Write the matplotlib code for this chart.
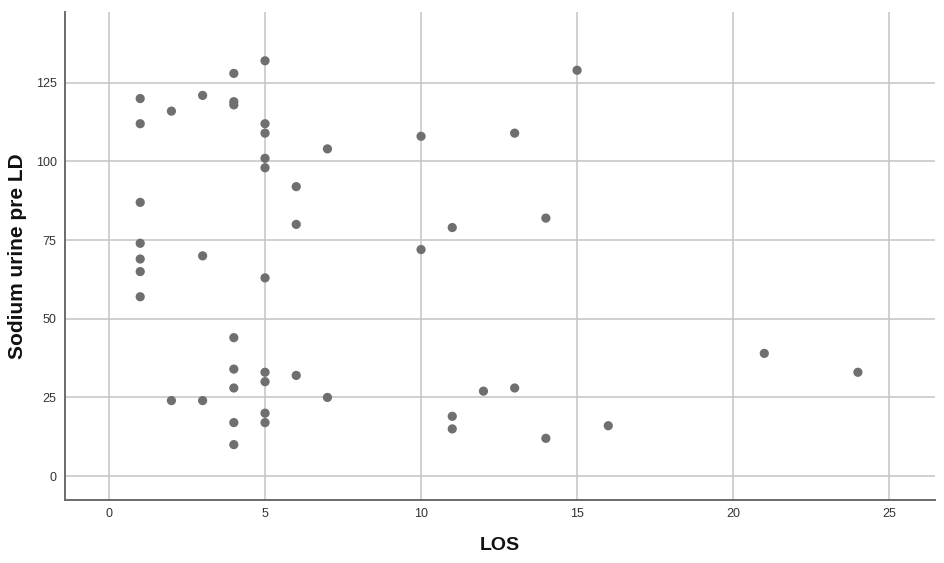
import matplotlib.pyplot as plt

# =========================================
# DATA (LOS vs sodium urine pre LD)
# =========================================
los = [1, 1, 1, 1, 1, 1, 1,
       2, 2,
       3, 3, 3,
       4, 4, 4, 4, 4, 4, 4, 4,
       5, 5, 5, 5, 5, 5, 5, 5, 5, 5,
       6, 6, 6,
       7, 7,
       10, 10,
       11, 11, 11,
       12,
       13, 13,
       14, 14,
       15,
       16,
       21,
       24]

sodium = [120, 112, 87, 74, 69, 65, 57,
          116, 24,
          121, 70, 24,
          128, 119, 118, 44, 34, 28, 17, 10,
          132, 112, 109, 101, 98, 63, 33, 30, 20, 17,
          92, 80, 32,
          104, 25,
          108, 72,
          79, 19, 15,
          27,
          109, 28,
          82, 12,
          129,
          16,
          39,
          33]

x_ticks = [0, 5, 10, 15, 20, 25]
y_ticks = [0, 25, 50, 75, 100, 125]

# =========================================
# PLOT
# =========================================
plt.rcParams["font.family"] = ["Liberation Sans", "DejaVu Sans"]

fig = plt.figure(figsize=(9.45, 5.63), dpi=100)
ax = fig.add_axes([0.0688, 0.1119, 0.9206, 0.8673])

ax.scatter(los, sodium, s=44, color="#6f6f6f", edgecolors="none", zorder=3)

ax.set_xlim(-1.41, 26.47)
ax.set_ylim(-7.6, 147.6)
ax.set_xticks(x_ticks)
ax.set_yticks(y_ticks)

ax.grid(True, color="#c4c4c4", linewidth=1.1, zorder=0)
ax.set_axisbelow(True)

ax.tick_params(length=0, labelsize=9, colors="#333333", pad=6)

for side in ["top", "right"]:
    ax.spines[side].set_visible(False)
for side in ["left", "bottom"]:
    ax.spines[side].set_color("#6a6a6a")
    ax.spines[side].set_linewidth(1.4)

ax.set_xlabel("LOS", fontsize=14, fontweight="bold", color="#111111", labelpad=12)
ax.set_ylabel("Sodium urine pre LD", fontsize=15, fontweight="bold",
              color="#111111", labelpad=6)

plt.savefig("out.png", dpi=100)
